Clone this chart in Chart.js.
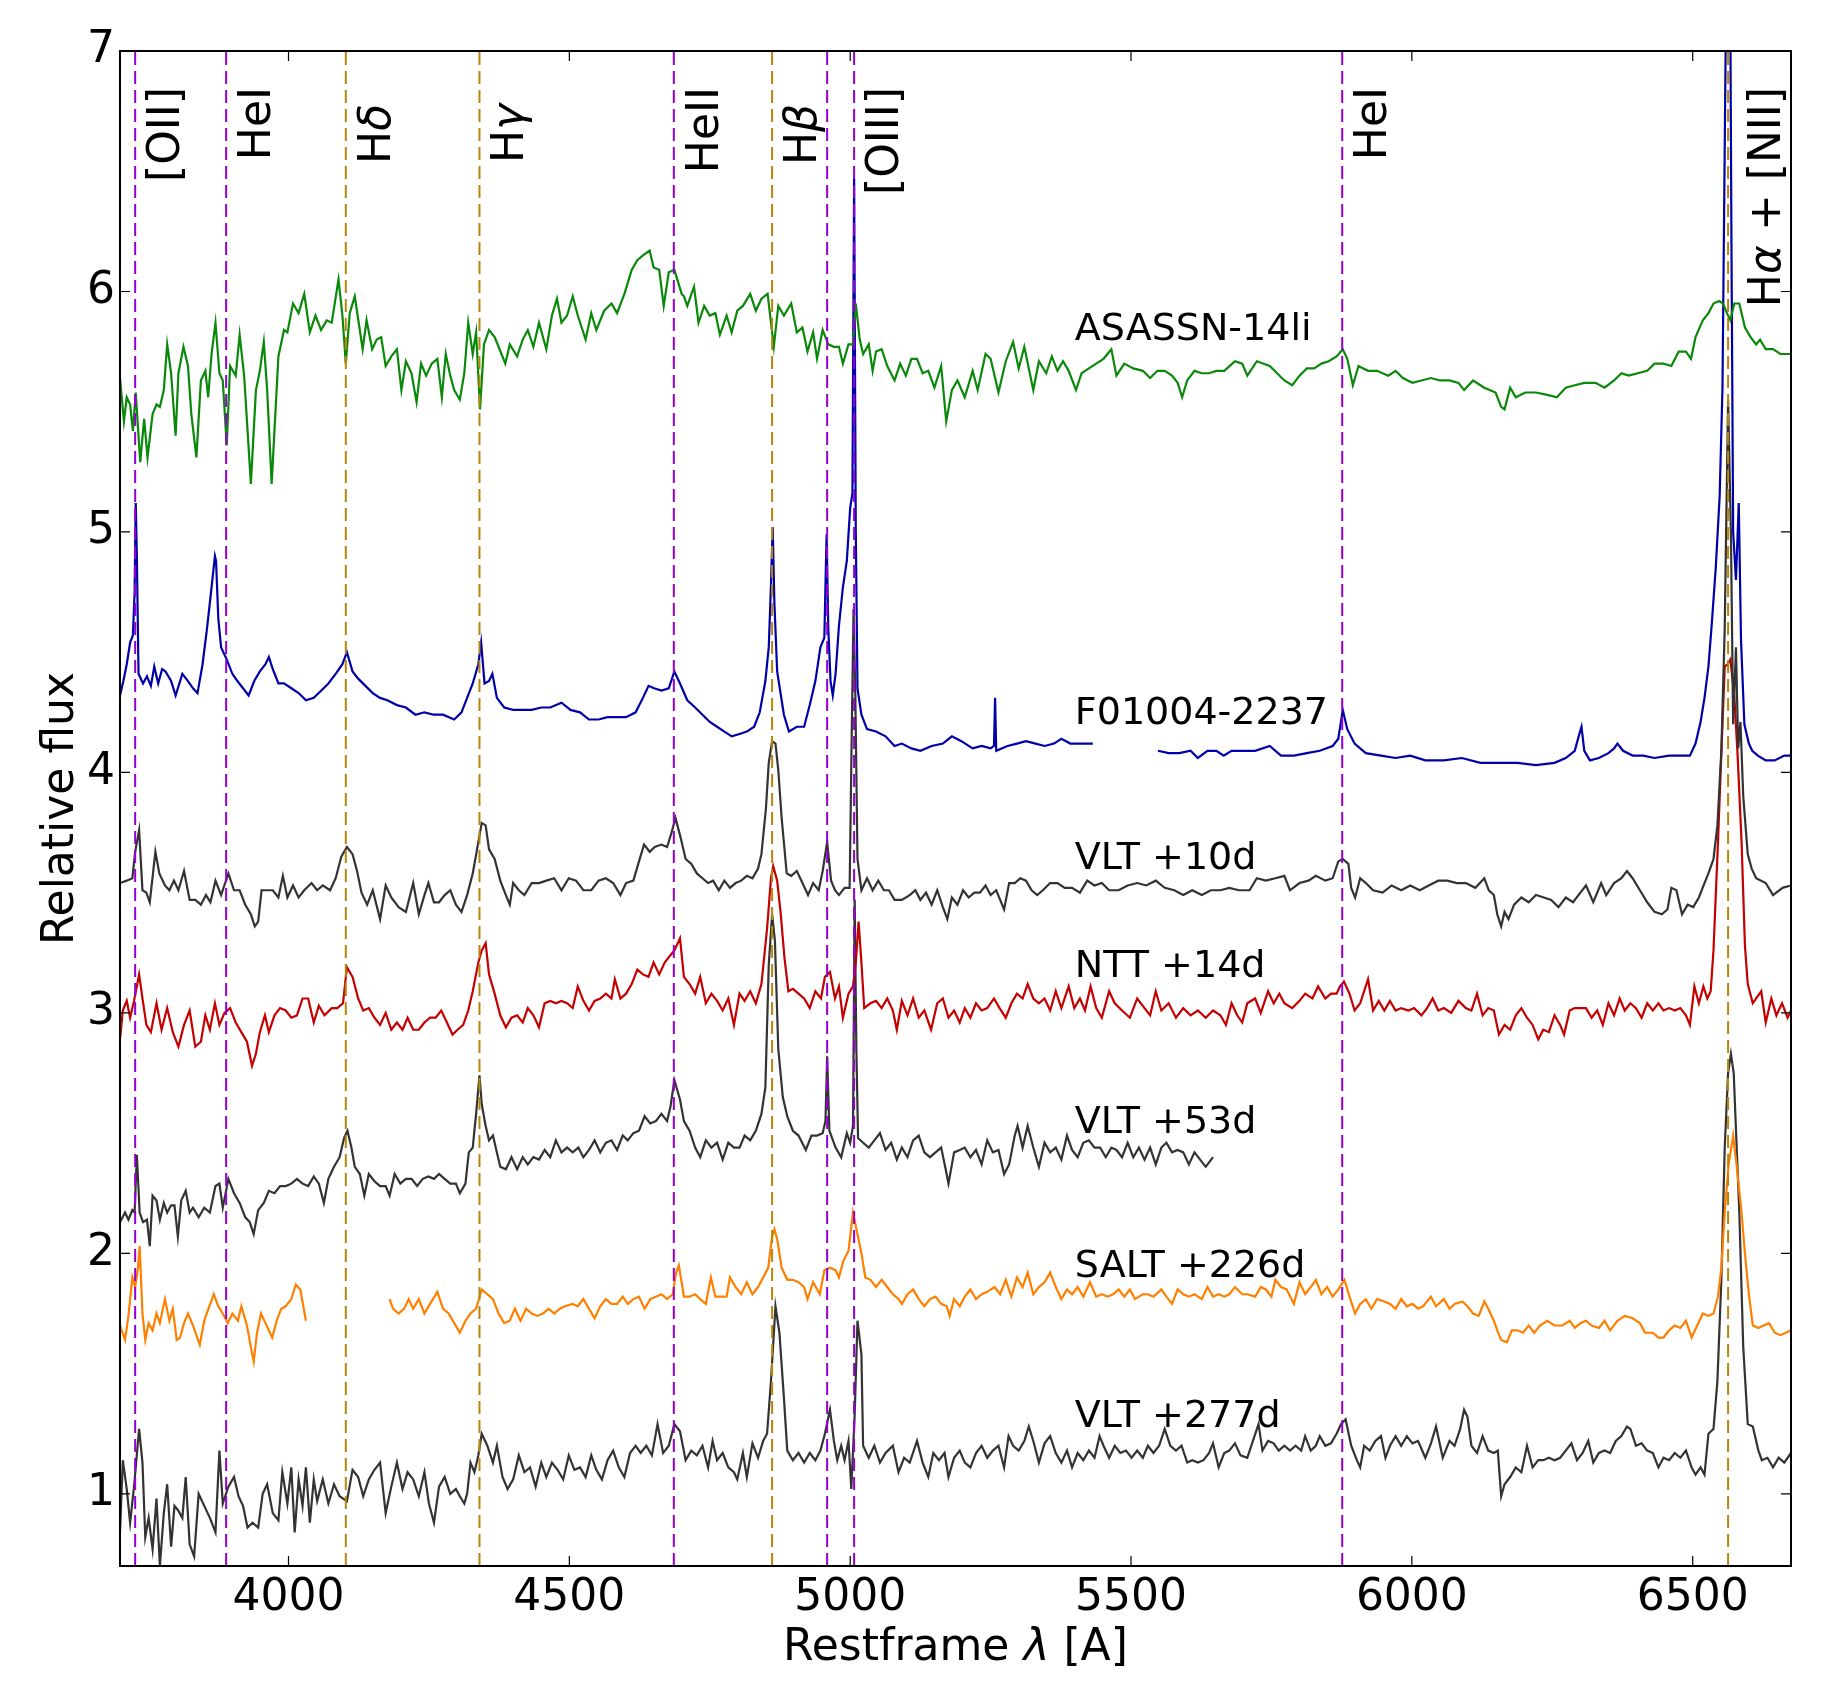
<!DOCTYPE html>
<html>
<head>
<meta charset="utf-8">
<script src="https://cdn.jsdelivr.net/npm/chart.js@4.4.0/dist/chart.umd.min.js"></script>
<style>
  html, body { margin: 0; padding: 0; background: #fff; }
  #wrap { width: 1827px; height: 1701px; }
</style>
</head>
<body>
<div id="wrap"><canvas id="spec" width="1827" height="1701"></canvas></div>
<script>
// axis ranges and ticks
const xRange = [3700, 6675];
const yRange = [0.7, 7];
const xTicks = [4000, 4500, 5000, 5500, 6000, 6500];
const yTicks = [1, 2, 3, 4, 5, 6, 7];

// emission line markers (v = violet, g = goldenrod)
const lineWaves = [3727, 3889, 4102, 4340, 4686, 4861, 4959, 5007, 5876, 6563];
const lineKinds = ['v', 'v', 'g', 'g', 'v', 'g', 'v', 'v', 'v', 'g'];

// line labels: [text, italic] pieces, x position and top (in data units)
const lineLabels = [
    [['[OII]', 0]], [['HeI', 0]], [['H', 0], ['δ', 1]], [['H', 0], ['γ', 1]],
    [['HeII', 0]], [['H', 0], ['β', 1]], [['[OIII]', 0]], [['HeI', 0]],
    [['H', 0], ['α', 1], [' + [NII]', 0]]
];
const labelWaves = [3805, 3967, 4180, 4418, 4764, 4939, 5085, 5954, 6656];
const labelTops = [6.85, 6.85, 6.78, 6.78, 6.85, 6.78, 6.85, 6.85, 6.85];

// spectra names
const specNames = ['ASASSN-14li', 'F01004-2237', 'VLT +10d', 'NTT +14d', 'VLT +53d', 'SALT +226d', 'VLT +277d'];
const specColors = ['#0a880a', '#0000a8', '#333333', '#c40000', '#333333', '#ff8000', '#333333'];
const nameX = 5400;
const nameY = [5.8, 4.2, 3.6, 3.15, 2.5, 1.9, 1.28];

// spectra, [restframe wavelength, relative flux]
const asassn = [[3700,5.64],[3707,5.46],[3712,5.56],[3718,5.53],[3723,5.42],[3728,5.58],[3736,5.29],[3743,5.47],[3749,5.31],[3758,5.49],[3765,5.53],[3771,5.52],[3778,5.59],[3784,5.78],[3791,5.66],[3799,5.40],[3804,5.66],[3813,5.77],[3821,5.69],[3827,5.49],[3836,5.31],[3844,5.63],[3852,5.67],[3857,5.56],[3863,5.74],[3870,5.87],[3877,5.66],[3883,5.63],[3890,5.36],[3896,5.69],[3906,5.65],[3913,5.82],[3921,5.65],[3933,5.20],[3942,5.59],[3949,5.67],[3956,5.79],[3962,5.59],[3970,5.20],[3982,5.73],[3992,5.84],[3998,5.83],[4008,5.95],[4018,5.91],[4028,5.99],[4038,5.83],[4048,5.90],[4058,5.84],[4068,5.88],[4077,5.87],[4089,6.05],[4096,5.90],[4102,5.70],[4109,5.91],[4118,5.98],[4125,5.87],[4132,5.76],[4139,5.88],[4149,5.76],[4157,5.80],[4165,5.81],[4173,5.69],[4183,5.73],[4193,5.76],[4201,5.59],[4209,5.71],[4219,5.66],[4228,5.54],[4236,5.70],[4245,5.65],[4255,5.70],[4265,5.72],[4273,5.56],[4280,5.74],[4288,5.65],[4295,5.59],[4305,5.55],[4313,5.66],[4320,5.87],[4328,5.74],[4334,5.83],[4341,5.51],[4348,5.78],[4357,5.84],[4367,5.81],[4374,5.77],[4386,5.70],[4394,5.78],[4407,5.73],[4417,5.80],[4426,5.84],[4436,5.77],[4446,5.87],[4459,5.76],[4469,5.90],[4478,5.97],[4486,5.87],[4496,5.90],[4506,5.98],[4515,5.90],[4529,5.80],[4539,5.91],[4548,5.84],[4562,5.92],[4575,5.95],[4585,5.91],[4598,5.99],[4611,6.09],[4621,6.13],[4631,6.15],[4643,6.17],[4650,6.10],[4660,6.09],[4668,5.94],[4677,6.08],[4687,6.09],[4700,5.99],[4704,5.98],[4710,5.94],[4722,6.02],[4730,5.87],[4740,5.94],[4750,5.90],[4760,5.91],[4768,5.82],[4780,5.90],[4789,5.83],[4799,5.92],[4809,5.94],[4822,5.99],[4832,5.92],[4842,5.97],[4853,5.99],[4864,5.77],[4872,5.94],[4882,5.90],[4895,5.95],[4905,5.83],[4915,5.85],[4924,5.75],[4934,5.83],[4941,5.72],[4951,5.84],[4961,5.78],[4971,5.77],[4980,5.77],[4987,5.70],[4997,5.78],[5005,5.78],[5010,5.95],[5017,5.80],[5023,5.74],[5033,5.78],[5040,5.67],[5046,5.75],[5056,5.76],[5066,5.69],[5079,5.63],[5089,5.70],[5099,5.65],[5109,5.72],[5119,5.72],[5129,5.66],[5139,5.67],[5150,5.60],[5162,5.69],[5171,5.46],[5181,5.59],[5191,5.63],[5204,5.56],[5218,5.67],[5227,5.59],[5241,5.74],[5250,5.72],[5264,5.58],[5277,5.71],[5290,5.79],[5300,5.68],[5310,5.77],[5326,5.59],[5336,5.71],[5349,5.66],[5359,5.73],[5369,5.67],[5379,5.71],[5389,5.67],[5402,5.59],[5412,5.66],[5425,5.68],[5438,5.70],[5451,5.72],[5465,5.76],[5474,5.65],[5488,5.70],[5504,5.68],[5521,5.67],[5534,5.64],[5547,5.67],[5560,5.67],[5573,5.65],[5583,5.62],[5591,5.56],[5600,5.63],[5613,5.67],[5626,5.66],[5639,5.66],[5652,5.67],[5666,5.67],[5685,5.71],[5698,5.70],[5707,5.65],[5724,5.71],[5747,5.69],[5760,5.66],[5773,5.63],[5787,5.61],[5800,5.65],[5813,5.68],[5826,5.68],[5839,5.70],[5852,5.71],[5866,5.73],[5877,5.76],[5885,5.72],[5895,5.61],[5905,5.69],[5922,5.67],[5938,5.67],[5958,5.65],[5971,5.67],[5984,5.64],[6001,5.62],[6017,5.63],[6034,5.64],[6050,5.63],[6067,5.63],[6083,5.62],[6093,5.59],[6109,5.63],[6129,5.60],[6149,5.58],[6159,5.52],[6165,5.51],[6175,5.60],[6185,5.56],[6202,5.58],[6221,5.58],[6241,5.57],[6258,5.56],[6274,5.60],[6290,5.61],[6307,5.62],[6327,5.62],[6343,5.60],[6360,5.63],[6373,5.66],[6386,5.65],[6402,5.66],[6419,5.67],[6432,5.70],[6448,5.70],[6462,5.69],[6475,5.75],[6488,5.75],[6497,5.72],[6505,5.81],[6518,5.88],[6528,5.91],[6537,5.95],[6547,5.96],[6554,5.95],[6561,5.91],[6567,5.88],[6574,5.95],[6583,5.95],[6593,5.85],[6603,5.81],[6613,5.78],[6620,5.80],[6630,5.76],[6643,5.76],[6656,5.74],[6675,5.74]];

const f01004 = [[3700,4.32],[3706,4.38],[3712,4.45],[3718,4.54],[3723,4.57],[3726,4.75],[3728,5.12],[3730,4.90],[3733,4.41],[3741,4.37],[3748,4.40],[3755,4.36],[3761,4.44],[3768,4.37],[3775,4.43],[3781,4.42],[3791,4.38],[3799,4.32],[3811,4.41],[3821,4.38],[3830,4.35],[3838,4.33],[3847,4.45],[3855,4.60],[3863,4.77],[3869,4.90],[3871,4.88],[3875,4.64],[3880,4.52],[3890,4.47],[3900,4.41],[3909,4.38],[3919,4.35],[3929,4.32],[3939,4.38],[3949,4.42],[3959,4.45],[3965,4.48],[3972,4.43],[3982,4.37],[3992,4.37],[4005,4.35],[4018,4.33],[4031,4.30],[4045,4.31],[4058,4.34],[4071,4.37],[4084,4.41],[4096,4.45],[4104,4.50],[4114,4.42],[4124,4.39],[4137,4.36],[4150,4.33],[4163,4.31],[4176,4.30],[4193,4.28],[4209,4.27],[4226,4.24],[4242,4.25],[4259,4.24],[4275,4.24],[4295,4.22],[4308,4.25],[4318,4.31],[4328,4.37],[4338,4.45],[4343,4.54],[4349,4.37],[4357,4.38],[4363,4.41],[4371,4.31],[4384,4.27],[4400,4.26],[4417,4.26],[4433,4.26],[4450,4.27],[4466,4.27],[4486,4.29],[4502,4.26],[4519,4.25],[4535,4.22],[4552,4.22],[4568,4.23],[4585,4.23],[4601,4.23],[4618,4.25],[4631,4.31],[4641,4.36],[4651,4.35],[4664,4.34],[4677,4.35],[4687,4.42],[4697,4.37],[4710,4.30],[4724,4.27],[4737,4.24],[4750,4.21],[4763,4.19],[4776,4.17],[4789,4.15],[4803,4.16],[4816,4.17],[4829,4.19],[4839,4.25],[4849,4.38],[4855,4.52],[4859,4.78],[4862,5.02],[4865,4.71],[4870,4.42],[4882,4.24],[4891,4.17],[4905,4.19],[4918,4.19],[4928,4.28],[4938,4.38],[4947,4.52],[4954,4.56],[4958,4.99],[4961,4.60],[4965,4.38],[4969,4.32],[4974,4.41],[4980,4.61],[4987,4.77],[4994,4.88],[5000,5.10],[5004,5.16],[5007,6.47],[5010,5.00],[5013,4.35],[5020,4.24],[5030,4.18],[5046,4.17],[5063,4.15],[5079,4.11],[5092,4.12],[5109,4.10],[5125,4.09],[5145,4.11],[5165,4.12],[5181,4.15],[5198,4.13],[5218,4.10],[5234,4.11],[5250,4.10],[5256,4.11],[5258,4.31],[5260,4.09],[5280,4.11],[5297,4.12],[5313,4.13],[5330,4.12],[5346,4.11],[5363,4.12],[5376,4.14],[5392,4.12],[5412,4.12],[5432,4.12],[5490,null],[5548,4.09],[5567,4.08],[5586,4.08],[5606,4.09],[5619,4.06],[5636,4.09],[5652,4.09],[5665,4.07],[5679,4.09],[5694,4.09],[5721,4.09],[5747,4.11],[5767,4.07],[5790,4.07],[5813,4.08],[5836,4.09],[5859,4.11],[5869,4.14],[5877,4.26],[5885,4.18],[5898,4.12],[5918,4.08],[5945,4.07],[5971,4.06],[5997,4.07],[6024,4.05],[6057,4.05],[6089,4.06],[6122,4.04],[6155,4.04],[6188,4.04],[6221,4.03],[6254,4.04],[6274,4.06],[6290,4.09],[6297,4.15],[6302,4.19],[6307,4.09],[6317,4.05],[6333,4.06],[6350,4.08],[6360,4.10],[6366,4.12],[6376,4.09],[6393,4.07],[6412,4.07],[6432,4.06],[6458,4.07],[6481,4.07],[6495,4.07],[6505,4.12],[6514,4.21],[6521,4.31],[6528,4.44],[6534,4.62],[6541,4.85],[6548,5.15],[6553,5.60],[6557,6.60],[6561,7.60],[6566,7.60],[6569,6.20],[6572,5.00],[6577,4.80],[6582,5.12],[6586,4.55],[6592,4.20],[6600,4.12],[6606,4.09],[6616,4.07],[6630,4.05],[6646,4.05],[6663,4.07],[6675,4.07]];

const vlt10 = [[3700,3.54],[3712,3.55],[3722,3.56],[3727,3.67],[3734,3.76],[3740,3.51],[3747,3.50],[3753,3.46],[3763,3.67],[3770,3.58],[3780,3.53],[3788,3.51],[3796,3.55],[3804,3.51],[3814,3.59],[3824,3.47],[3834,3.47],[3844,3.45],[3853,3.49],[3861,3.46],[3870,3.55],[3880,3.49],[3893,3.58],[3903,3.51],[3913,3.51],[3923,3.45],[3933,3.41],[3940,3.36],[3946,3.38],[3952,3.51],[3962,3.51],[3972,3.51],[3982,3.48],[3990,3.57],[3998,3.48],[4008,3.53],[4018,3.48],[4028,3.51],[4041,3.54],[4051,3.51],[4061,3.53],[4074,3.51],[4084,3.56],[4094,3.65],[4104,3.69],[4114,3.66],[4122,3.59],[4130,3.50],[4140,3.45],[4150,3.51],[4163,3.39],[4173,3.53],[4183,3.48],[4196,3.44],[4209,3.42],[4222,3.54],[4232,3.41],[4242,3.49],[4249,3.54],[4259,3.46],[4268,3.46],[4278,3.49],[4288,3.51],[4298,3.45],[4308,3.42],[4318,3.49],[4328,3.58],[4338,3.71],[4344,3.79],[4351,3.78],[4357,3.68],[4367,3.64],[4377,3.55],[4387,3.49],[4394,3.45],[4400,3.54],[4410,3.51],[4420,3.49],[4433,3.54],[4446,3.54],[4459,3.55],[4473,3.56],[4486,3.51],[4499,3.56],[4512,3.55],[4525,3.51],[4539,3.51],[4552,3.55],[4565,3.56],[4578,3.54],[4591,3.49],[4601,3.54],[4614,3.55],[4624,3.63],[4633,3.70],[4643,3.67],[4652,3.69],[4664,3.70],[4674,3.69],[4682,3.75],[4689,3.81],[4698,3.73],[4707,3.64],[4717,3.62],[4727,3.58],[4737,3.56],[4747,3.54],[4756,3.55],[4766,3.51],[4776,3.55],[4786,3.52],[4796,3.54],[4806,3.55],[4816,3.57],[4826,3.56],[4836,3.60],[4842,3.66],[4850,3.85],[4855,4.04],[4861,4.13],[4867,4.12],[4872,4.01],[4878,3.81],[4887,3.58],[4895,3.57],[4905,3.59],[4915,3.54],[4925,3.49],[4934,3.54],[4944,3.51],[4951,3.59],[4959,3.71],[4966,3.55],[4973,3.51],[4980,3.49],[4990,3.52],[4999,3.52],[5003,4.20],[5006,4.68],[5009,4.35],[5013,3.64],[5020,3.51],[5030,3.56],[5040,3.51],[5050,3.55],[5060,3.51],[5069,3.51],[5079,3.47],[5092,3.47],[5106,3.49],[5116,3.51],[5125,3.47],[5135,3.50],[5145,3.45],[5155,3.51],[5165,3.44],[5173,3.39],[5181,3.48],[5191,3.45],[5201,3.51],[5211,3.48],[5221,3.50],[5231,3.50],[5241,3.53],[5250,3.49],[5260,3.51],[5274,3.43],[5283,3.54],[5293,3.54],[5303,3.56],[5313,3.55],[5323,3.51],[5333,3.49],[5343,3.51],[5356,3.54],[5369,3.54],[5382,3.52],[5395,3.52],[5409,3.50],[5422,3.55],[5435,3.53],[5448,3.54],[5461,3.51],[5478,3.51],[5494,3.53],[5511,3.54],[5527,3.53],[5544,3.55],[5560,3.52],[5577,3.51],[5593,3.49],[5609,3.51],[5626,3.49],[5642,3.51],[5659,3.51],[5675,3.52],[5692,3.51],[5711,3.51],[5724,3.56],[5740,3.55],[5757,3.56],[5773,3.57],[5783,3.51],[5800,3.54],[5816,3.55],[5829,3.57],[5846,3.55],[5859,3.56],[5869,3.63],[5877,3.64],[5887,3.62],[5892,3.52],[5899,3.48],[5908,3.56],[5918,3.54],[5931,3.51],[5948,3.50],[5964,3.53],[5981,3.51],[5997,3.53],[6014,3.51],[6030,3.53],[6047,3.55],[6063,3.55],[6080,3.54],[6096,3.54],[6113,3.52],[6129,3.56],[6137,3.51],[6146,3.49],[6152,3.41],[6159,3.36],[6165,3.42],[6172,3.39],[6182,3.45],[6195,3.48],[6208,3.46],[6221,3.49],[6235,3.48],[6248,3.47],[6261,3.44],[6274,3.48],[6287,3.46],[6300,3.50],[6310,3.53],[6323,3.46],[6337,3.54],[6346,3.49],[6360,3.54],[6373,3.56],[6383,3.59],[6393,3.56],[6406,3.51],[6419,3.46],[6432,3.42],[6445,3.41],[6455,3.43],[6462,3.52],[6471,3.51],[6481,3.41],[6491,3.45],[6501,3.44],[6511,3.48],[6521,3.54],[6528,3.58],[6537,3.64],[6544,3.78],[6551,4.09],[6557,4.60],[6563,5.55],[6568,5.00],[6572,4.20],[6577,4.52],[6581,4.10],[6585,4.21],[6590,3.90],[6598,3.66],[6605,3.60],[6613,3.56],[6630,3.54],[6643,3.49],[6660,3.52],[6675,3.53]];

const ntt14 = [[3700,2.89],[3705,3.01],[3712,3.05],[3718,2.98],[3725,3.05],[3734,3.16],[3740,3.06],[3747,2.95],[3755,2.92],[3765,3.04],[3774,2.93],[3784,3.02],[3794,2.92],[3804,2.86],[3814,2.95],[3824,3.01],[3834,2.86],[3844,2.88],[3852,2.99],[3860,2.93],[3869,3.04],[3877,2.95],[3886,3.00],[3896,3.02],[3906,2.96],[3916,2.92],[3926,2.88],[3935,2.78],[3942,2.83],[3949,2.92],[3958,2.99],[3965,2.92],[3975,2.99],[3985,3.02],[3995,3.01],[4005,2.98],[4015,2.99],[4025,3.06],[4035,3.06],[4045,2.96],[4054,3.03],[4064,2.99],[4077,3.02],[4087,3.02],[4097,3.04],[4104,3.19],[4114,3.15],[4124,3.06],[4133,3.01],[4143,3.02],[4153,2.98],[4163,2.95],[4173,3.00],[4183,2.93],[4193,2.96],[4203,2.93],[4212,2.98],[4222,2.93],[4232,2.93],[4242,2.96],[4252,2.98],[4262,2.98],[4272,3.01],[4282,2.96],[4292,2.91],[4301,2.93],[4311,2.95],[4320,3.01],[4328,3.09],[4338,3.21],[4344,3.26],[4351,3.29],[4357,3.16],[4367,3.08],[4377,2.99],[4387,2.94],[4397,2.98],[4407,2.99],[4417,2.96],[4426,3.02],[4436,2.99],[4446,2.94],[4456,3.04],[4466,3.05],[4476,3.04],[4486,3.05],[4496,3.04],[4506,3.02],[4515,3.11],[4525,3.05],[4535,3.01],[4545,3.05],[4555,3.06],[4565,3.08],[4575,3.06],[4581,3.14],[4591,3.06],[4601,3.08],[4611,3.12],[4621,3.18],[4631,3.16],[4641,3.15],[4650,3.21],[4660,3.16],[4670,3.21],[4680,3.24],[4687,3.26],[4697,3.31],[4704,3.15],[4714,3.12],[4724,3.08],[4733,3.15],[4743,3.04],[4753,3.08],[4763,3.05],[4773,3.01],[4783,3.06],[4793,2.95],[4803,3.08],[4812,3.05],[4822,3.09],[4832,3.04],[4842,3.12],[4852,3.35],[4859,3.56],[4863,3.61],[4870,3.55],[4876,3.42],[4883,3.23],[4890,3.09],[4898,3.10],[4908,3.08],[4918,3.06],[4928,3.02],[4938,3.09],[4948,3.06],[4955,3.15],[4964,3.17],[4973,3.06],[4980,3.11],[4987,2.98],[4997,3.08],[5005,3.11],[5010,3.21],[5015,3.38],[5020,3.21],[5025,3.02],[5036,3.04],[5046,3.05],[5056,3.02],[5066,3.06],[5076,3.01],[5083,2.93],[5092,3.05],[5102,2.99],[5112,3.06],[5122,2.98],[5132,3.01],[5144,2.93],[5155,3.04],[5165,3.06],[5175,2.98],[5185,3.01],[5195,2.96],[5204,3.02],[5214,2.98],[5224,3.04],[5234,3.01],[5244,3.02],[5256,3.06],[5266,3.02],[5277,2.98],[5287,3.04],[5297,3.08],[5307,3.06],[5316,3.12],[5326,3.06],[5336,3.04],[5346,3.06],[5356,3.01],[5366,3.09],[5376,3.02],[5389,3.11],[5399,3.02],[5409,3.06],[5418,3.01],[5428,3.11],[5438,3.02],[5448,2.98],[5461,3.09],[5471,3.04],[5484,3.01],[5498,2.98],[5511,3.06],[5524,3.02],[5534,2.99],[5544,3.09],[5554,3.01],[5567,3.04],[5580,2.98],[5593,3.02],[5606,2.99],[5619,3.01],[5633,2.98],[5646,3.01],[5659,2.99],[5669,2.95],[5679,3.04],[5689,2.99],[5698,2.96],[5707,3.04],[5721,3.06],[5731,3.00],[5744,3.09],[5754,3.04],[5764,3.08],[5773,3.04],[5787,3.02],[5800,3.05],[5810,3.08],[5823,3.06],[5833,3.11],[5846,3.06],[5856,3.08],[5866,3.08],[5872,3.11],[5879,3.13],[5889,3.08],[5898,3.01],[5908,3.04],[5922,3.14],[5931,3.01],[5941,3.05],[5951,3.01],[5961,3.05],[5971,3.01],[5981,3.02],[5994,3.01],[6004,3.02],[6017,2.99],[6027,3.02],[6037,3.06],[6047,3.01],[6057,3.02],[6070,3.00],[6083,3.05],[6096,3.02],[6106,3.01],[6116,3.08],[6126,2.99],[6136,3.02],[6146,3.01],[6155,2.91],[6165,2.95],[6175,2.93],[6185,2.99],[6195,3.02],[6205,2.98],[6215,2.95],[6225,2.89],[6234,2.93],[6244,2.92],[6254,2.99],[6264,2.95],[6271,2.91],[6281,3.01],[6290,3.02],[6300,3.02],[6310,3.02],[6320,2.98],[6330,3.01],[6340,2.95],[6350,3.04],[6360,2.99],[6370,3.06],[6379,3.01],[6389,3.04],[6399,3.02],[6409,2.98],[6419,3.04],[6429,3.01],[6439,3.04],[6448,3.01],[6458,3.02],[6468,3.01],[6478,3.02],[6488,2.99],[6495,2.95],[6503,3.11],[6511,3.04],[6519,3.11],[6526,3.06],[6532,3.09],[6537,3.26],[6545,3.71],[6552,4.14],[6557,4.44],[6562,4.45],[6567,4.47],[6574,4.32],[6580,4.07],[6587,3.71],[6593,3.28],[6598,3.12],[6607,3.04],[6613,3.06],[6622,3.09],[6630,2.96],[6640,3.06],[6649,2.99],[6659,3.04],[6669,2.98],[6675,3.01]];

const vlt53 = [[3700,2.13],[3709,2.17],[3715,2.14],[3722,2.18],[3726,2.17],[3730,2.41],[3735,2.17],[3741,2.13],[3748,2.14],[3753,2.03],[3758,2.24],[3765,2.22],[3771,2.14],[3778,2.21],[3784,2.17],[3791,2.20],[3797,2.20],[3803,2.07],[3809,2.22],[3817,2.26],[3824,2.17],[3830,2.19],[3840,2.15],[3850,2.19],[3860,2.17],[3870,2.28],[3877,2.29],[3883,2.19],[3893,2.31],[3903,2.25],[3913,2.21],[3923,2.15],[3931,2.13],[3938,2.08],[3946,2.18],[3956,2.21],[3965,2.26],[3975,2.25],[3985,2.28],[3995,2.28],[4005,2.29],[4015,2.31],[4025,2.29],[4035,2.28],[4045,2.32],[4054,2.29],[4063,2.21],[4071,2.31],[4081,2.36],[4091,2.40],[4099,2.48],[4105,2.51],[4112,2.44],[4118,2.36],[4127,2.33],[4135,2.24],[4143,2.33],[4153,2.30],[4163,2.28],[4173,2.28],[4180,2.24],[4189,2.33],[4199,2.29],[4209,2.31],[4219,2.31],[4229,2.28],[4239,2.31],[4249,2.32],[4259,2.31],[4268,2.33],[4278,2.31],[4288,2.29],[4298,2.29],[4305,2.25],[4315,2.29],[4321,2.42],[4328,2.44],[4334,2.58],[4340,2.74],[4344,2.62],[4351,2.53],[4357,2.47],[4364,2.49],[4371,2.42],[4377,2.36],[4387,2.35],[4397,2.40],[4407,2.35],[4417,2.40],[4426,2.37],[4436,2.40],[4446,2.39],[4456,2.43],[4466,2.40],[4476,2.47],[4486,2.42],[4496,2.44],[4506,2.42],[4516,2.44],[4525,2.40],[4535,2.43],[4545,2.47],[4555,2.42],[4565,2.46],[4575,2.47],[4585,2.43],[4595,2.49],[4604,2.47],[4614,2.50],[4624,2.51],[4634,2.57],[4644,2.54],[4654,2.55],[4664,2.58],[4674,2.55],[4680,2.61],[4687,2.72],[4697,2.64],[4704,2.55],[4714,2.51],[4724,2.44],[4733,2.40],[4743,2.47],[4753,2.44],[4763,2.46],[4773,2.39],[4783,2.46],[4793,2.44],[4803,2.44],[4812,2.49],[4822,2.47],[4832,2.51],[4842,2.58],[4849,2.69],[4855,3.20],[4861,3.41],[4866,3.30],[4872,2.85],[4880,2.65],[4888,2.57],[4898,2.51],[4908,2.49],[4921,2.43],[4931,2.49],[4941,2.49],[4951,2.50],[4956,2.55],[4959,2.82],[4963,2.51],[4974,2.44],[4984,2.40],[4994,2.50],[5000,2.46],[5005,2.53],[5008,3.47],[5011,2.85],[5014,2.48],[5023,2.46],[5033,2.44],[5043,2.47],[5053,2.50],[5063,2.43],[5073,2.46],[5083,2.39],[5092,2.44],[5102,2.40],[5112,2.47],[5122,2.49],[5132,2.42],[5142,2.40],[5152,2.42],[5162,2.44],[5170,2.35],[5175,2.29],[5185,2.42],[5195,2.43],[5204,2.44],[5214,2.40],[5224,2.43],[5234,2.37],[5244,2.47],[5254,2.42],[5264,2.43],[5274,2.33],[5283,2.37],[5293,2.49],[5298,2.53],[5307,2.44],[5316,2.53],[5326,2.44],[5336,2.36],[5346,2.46],[5356,2.42],[5366,2.44],[5376,2.39],[5386,2.49],[5395,2.43],[5405,2.40],[5415,2.46],[5425,2.47],[5435,2.44],[5445,2.44],[5455,2.40],[5465,2.44],[5474,2.43],[5484,2.40],[5494,2.46],[5504,2.40],[5514,2.44],[5524,2.39],[5534,2.44],[5544,2.37],[5554,2.44],[5563,2.46],[5573,2.42],[5583,2.43],[5593,2.42],[5603,2.37],[5613,2.42],[5623,2.39],[5633,2.36],[5646,2.40]];

const salt226 = [[3700,1.70],[3709,1.64],[3715,1.74],[3722,1.90],[3727,1.86],[3732,1.94],[3735,2.03],[3740,1.75],[3745,1.64],[3751,1.71],[3758,1.68],[3765,1.75],[3771,1.71],[3780,1.81],[3788,1.72],[3794,1.77],[3801,1.64],[3807,1.65],[3814,1.71],[3821,1.75],[3830,1.70],[3842,1.62],[3850,1.72],[3859,1.78],[3867,1.83],[3875,1.78],[3883,1.75],[3892,1.71],[3900,1.75],[3910,1.72],[3916,1.78],[3926,1.70],[3933,1.61],[3938,1.55],[3944,1.67],[3951,1.75],[3959,1.71],[3971,1.65],[3979,1.72],[3987,1.77],[3995,1.78],[4005,1.81],[4013,1.87],[4021,1.85],[4031,1.72],[4100,null],[4180,1.81],[4186,1.77],[4196,1.75],[4206,1.77],[4214,1.81],[4222,1.77],[4232,1.81],[4242,1.75],[4252,1.79],[4265,1.84],[4275,1.77],[4285,1.75],[4295,1.71],[4305,1.67],[4315,1.72],[4324,1.75],[4334,1.77],[4344,1.85],[4354,1.83],[4364,1.81],[4374,1.75],[4384,1.71],[4394,1.72],[4403,1.77],[4413,1.72],[4423,1.77],[4433,1.75],[4443,1.74],[4453,1.75],[4463,1.77],[4473,1.75],[4483,1.77],[4492,1.78],[4506,1.79],[4515,1.78],[4525,1.81],[4535,1.77],[4545,1.73],[4555,1.78],[4565,1.81],[4575,1.79],[4585,1.79],[4595,1.82],[4604,1.79],[4614,1.81],[4624,1.82],[4634,1.77],[4644,1.81],[4654,1.82],[4664,1.83],[4674,1.81],[4684,1.83],[4690,1.92],[4695,1.95],[4704,1.82],[4714,1.82],[4724,1.83],[4733,1.81],[4743,1.79],[4752,1.90],[4760,1.82],[4770,1.82],[4780,1.82],[4786,1.90],[4796,1.86],[4806,1.83],[4816,1.88],[4826,1.83],[4836,1.86],[4845,1.90],[4854,1.94],[4861,2.07],[4865,2.10],[4870,2.06],[4878,1.94],[4888,1.89],[4898,1.89],[4908,1.88],[4918,1.86],[4924,1.81],[4934,1.88],[4946,1.83],[4954,1.93],[4964,1.94],[4974,1.93],[4980,1.90],[4988,1.97],[4997,2.01],[5005,2.17],[5013,2.08],[5020,2.00],[5027,1.90],[5036,1.89],[5046,1.86],[5056,1.89],[5066,1.86],[5076,1.83],[5086,1.81],[5092,1.79],[5102,1.83],[5112,1.85],[5122,1.81],[5132,1.78],[5142,1.81],[5152,1.82],[5162,1.79],[5172,1.78],[5177,1.74],[5185,1.81],[5195,1.78],[5204,1.82],[5214,1.85],[5224,1.81],[5234,1.83],[5244,1.84],[5257,1.86],[5267,1.83],[5277,1.89],[5287,1.82],[5297,1.90],[5307,1.86],[5316,1.92],[5326,1.83],[5336,1.86],[5346,1.88],[5356,1.92],[5366,1.86],[5376,1.81],[5386,1.85],[5395,1.83],[5405,1.86],[5415,1.82],[5427,1.88],[5438,1.82],[5448,1.83],[5458,1.82],[5468,1.83],[5478,1.85],[5488,1.82],[5498,1.85],[5507,1.81],[5521,1.83],[5530,1.83],[5540,1.82],[5554,1.85],[5563,1.82],[5573,1.79],[5583,1.85],[5593,1.83],[5603,1.82],[5613,1.83],[5626,1.81],[5636,1.86],[5646,1.82],[5656,1.83],[5666,1.82],[5675,1.83],[5685,1.86],[5698,1.83],[5707,1.83],[5721,1.82],[5731,1.86],[5740,1.85],[5750,1.82],[5757,1.89],[5767,1.86],[5777,1.85],[5790,1.79],[5800,1.88],[5810,1.83],[5820,1.86],[5829,1.89],[5839,1.83],[5849,1.86],[5859,1.82],[5869,1.85],[5880,1.89],[5889,1.82],[5899,1.75],[5908,1.79],[5918,1.81],[5928,1.77],[5938,1.81],[5951,1.80],[5961,1.79],[5971,1.77],[5981,1.81],[5991,1.78],[6001,1.79],[6011,1.77],[6020,1.78],[6034,1.82],[6043,1.78],[6057,1.81],[6067,1.77],[6076,1.79],[6090,1.80],[6099,1.78],[6109,1.75],[6119,1.74],[6129,1.80],[6136,1.77],[6146,1.72],[6152,1.68],[6159,1.64],[6169,1.63],[6178,1.68],[6188,1.68],[6198,1.67],[6208,1.70],[6218,1.67],[6228,1.70],[6241,1.72],[6254,1.70],[6268,1.70],[6281,1.72],[6290,1.69],[6300,1.71],[6310,1.72],[6320,1.70],[6333,1.69],[6343,1.72],[6353,1.68],[6366,1.72],[6379,1.74],[6393,1.73],[6406,1.71],[6415,1.67],[6429,1.67],[6439,1.65],[6448,1.65],[6458,1.68],[6468,1.70],[6478,1.69],[6488,1.72],[6498,1.65],[6508,1.70],[6518,1.75],[6528,1.74],[6537,1.75],[6545,1.82],[6551,1.94],[6557,2.17],[6564,2.37],[6572,2.49],[6578,2.37],[6587,2.17],[6593,2.00],[6600,1.83],[6607,1.70],[6617,1.69],[6626,1.70],[6636,1.71],[6646,1.67],[6656,1.66],[6666,1.67],[6675,1.68]];

const vlt277 = [[3700,0.84],[3705,1.14],[3712,1.02],[3718,0.88],[3725,1.03],[3734,1.27],[3740,1.13],[3745,0.82],[3751,0.90],[3758,0.77],[3765,0.98],[3771,0.70],[3778,0.92],[3784,1.04],[3791,0.78],[3797,0.95],[3804,0.93],[3811,0.90],[3817,1.07],[3824,0.79],[3832,0.74],[3840,1.00],[3850,0.95],[3860,0.90],[3870,0.84],[3877,1.18],[3883,0.96],[3893,1.03],[3903,1.07],[3911,0.99],[3919,0.95],[3927,0.86],[3936,0.88],[3946,0.86],[3954,1.00],[3962,1.04],[3972,0.92],[3982,0.89],[3989,1.09],[3998,0.96],[4005,1.11],[4011,0.84],[4018,1.06],[4025,0.95],[4031,1.11],[4038,0.88],[4045,1.06],[4051,0.97],[4061,1.06],[4071,0.96],[4081,1.04],[4091,0.99],[4104,0.97],[4114,1.10],[4124,1.07],[4133,0.99],[4143,1.06],[4153,1.10],[4163,1.13],[4173,0.92],[4183,1.03],[4193,1.13],[4203,1.02],[4212,1.09],[4222,1.06],[4232,0.99],[4242,1.09],[4250,0.96],[4259,0.88],[4268,1.03],[4278,1.07],[4288,1.00],[4298,1.02],[4305,0.99],[4313,0.96],[4318,1.00],[4324,1.13],[4331,1.09],[4338,1.16],[4344,1.25],[4354,1.20],[4364,1.13],[4371,1.20],[4381,1.07],[4390,1.02],[4400,1.06],[4410,1.16],[4420,1.09],[4430,1.11],[4440,1.03],[4450,1.13],[4459,1.07],[4469,1.13],[4479,1.10],[4489,1.06],[4499,1.16],[4509,1.10],[4519,1.11],[4529,1.07],[4539,1.16],[4548,1.10],[4558,1.06],[4568,1.14],[4578,1.18],[4588,1.11],[4598,1.07],[4608,1.17],[4618,1.20],[4627,1.17],[4637,1.20],[4647,1.16],[4657,1.29],[4667,1.17],[4677,1.20],[4687,1.29],[4697,1.26],[4707,1.14],[4717,1.18],[4727,1.16],[4737,1.20],[4747,1.11],[4755,1.22],[4763,1.14],[4773,1.17],[4783,1.11],[4793,1.09],[4799,1.06],[4809,1.17],[4816,1.07],[4826,1.21],[4836,1.15],[4845,1.22],[4852,1.25],[4859,1.47],[4867,1.78],[4874,1.67],[4882,1.40],[4888,1.18],[4898,1.14],[4908,1.17],[4918,1.13],[4928,1.17],[4938,1.14],[4947,1.18],[4955,1.25],[4964,1.35],[4971,1.22],[4977,1.14],[4984,1.20],[4990,1.14],[4997,1.22],[5002,1.02],[5008,1.33],[5013,1.72],[5020,1.58],[5023,1.20],[5033,1.15],[5043,1.20],[5053,1.13],[5063,1.17],[5076,1.20],[5086,1.09],[5096,1.15],[5106,1.13],[5119,1.22],[5129,1.13],[5139,1.07],[5148,1.17],[5158,1.14],[5168,1.17],[5175,1.07],[5185,1.15],[5195,1.18],[5204,1.13],[5214,1.11],[5224,1.17],[5234,1.20],[5244,1.15],[5254,1.18],[5264,1.20],[5274,1.11],[5282,1.24],[5290,1.20],[5300,1.18],[5310,1.22],[5318,1.28],[5326,1.22],[5336,1.13],[5346,1.21],[5356,1.24],[5366,1.17],[5376,1.13],[5386,1.18],[5395,1.11],[5405,1.17],[5415,1.14],[5425,1.18],[5435,1.15],[5444,1.24],[5451,1.20],[5461,1.15],[5471,1.20],[5481,1.17],[5491,1.18],[5501,1.15],[5511,1.18],[5521,1.15],[5530,1.20],[5540,1.17],[5550,1.20],[5560,1.27],[5570,1.20],[5580,1.18],[5590,1.20],[5600,1.13],[5609,1.14],[5619,1.13],[5629,1.14],[5639,1.17],[5646,1.21],[5656,1.11],[5666,1.17],[5675,1.18],[5685,1.21],[5695,1.16],[5707,1.15],[5717,1.22],[5727,1.29],[5734,1.18],[5744,1.22],[5754,1.21],[5763,1.18],[5773,1.20],[5783,1.18],[5793,1.20],[5803,1.18],[5810,1.24],[5820,1.18],[5829,1.20],[5836,1.24],[5846,1.20],[5856,1.21],[5866,1.25],[5874,1.29],[5882,1.31],[5892,1.20],[5902,1.14],[5908,1.11],[5915,1.20],[5925,1.18],[5935,1.22],[5945,1.24],[5953,1.15],[5961,1.20],[5971,1.24],[5981,1.20],[5991,1.24],[6001,1.21],[6011,1.22],[6024,1.15],[6034,1.21],[6043,1.28],[6055,1.15],[6067,1.22],[6076,1.20],[6086,1.27],[6093,1.35],[6099,1.32],[6106,1.20],[6116,1.17],[6126,1.24],[6136,1.18],[6146,1.17],[6153,1.18],[6159,0.99],[6165,1.04],[6175,1.07],[6185,1.11],[6195,1.09],[6205,1.20],[6215,1.11],[6225,1.14],[6234,1.14],[6244,1.15],[6254,1.14],[6264,1.15],[6274,1.18],[6284,1.21],[6294,1.14],[6304,1.17],[6314,1.22],[6323,1.13],[6333,1.17],[6343,1.18],[6353,1.17],[6363,1.22],[6373,1.24],[6383,1.28],[6389,1.27],[6399,1.20],[6409,1.21],[6419,1.18],[6429,1.17],[6439,1.11],[6448,1.15],[6458,1.14],[6468,1.17],[6478,1.15],[6488,1.18],[6498,1.11],[6505,1.08],[6514,1.11],[6521,1.08],[6528,1.25],[6537,1.27],[6544,1.47],[6551,1.89],[6557,2.44],[6563,2.75],[6568,2.83],[6573,2.75],[6579,2.40],[6583,2.17],[6590,1.61],[6598,1.29],[6607,1.28],[6617,1.18],[6623,1.14],[6633,1.15],[6643,1.11],[6653,1.15],[6663,1.13],[6675,1.17]];

const spectra = [asassn, f01004, vlt10, ntt14, vlt53, salt226, vlt277];

const FONT = '"DejaVu Sans", "Liberation Sans", sans-serif';
const lineColor = { v: '#9400d3', g: '#b8860b' };
const tickLen = 10;

function toXY(pairs) {
    return pairs.map(p => ({ x: p[0], y: p[1] }));
}

// draws text made of regular / italic pieces, rotated 90 deg, ending at (bx, topY)
function drawRotated(ctx, pieces, size, bx, topY) {
    let total = 0;
    const widths = pieces.map(([t, it]) => {
        ctx.font = (it ? 'italic ' : '') + size + 'px ' + FONT;
        const w = ctx.measureText(t).width;
        total += w;
        return w;
    });
    ctx.save();
    ctx.translate(bx, topY);
    ctx.rotate(-Math.PI / 2);
    ctx.textAlign = 'left';
    ctx.textBaseline = 'alphabetic';
    let pos = -total;
    pieces.forEach(([t, it], i) => {
        ctx.font = (it ? 'italic ' : '') + size + 'px ' + FONT;
        ctx.fillText(t, pos, 0);
        pos += widths[i];
    });
    ctx.restore();
}

const decor = {
    id: 'decor',
    afterDatasetsDraw(chart) {
        const { ctx, chartArea: a, scales } = chart;
        const xs = scales.x, ys = scales.y;
        ctx.save();

        // frame
        ctx.strokeStyle = '#000';
        ctx.lineWidth = 2;
        ctx.strokeRect(a.left, a.top, a.right - a.left, a.bottom - a.top);

        // inward ticks on all four sides
        ctx.lineWidth = 1.2;
        ctx.beginPath();
        xTicks.forEach(v => {
            const px = xs.getPixelForValue(v);
            ctx.moveTo(px, a.bottom); ctx.lineTo(px, a.bottom - tickLen);
            ctx.moveTo(px, a.top); ctx.lineTo(px, a.top + tickLen);
        });
        yTicks.forEach(v => {
            const py = ys.getPixelForValue(v);
            ctx.moveTo(a.left, py); ctx.lineTo(a.left + tickLen, py);
            ctx.moveTo(a.right, py); ctx.lineTo(a.right - tickLen, py);
        });
        ctx.stroke();

        ctx.fillStyle = '#000';

        // emission line labels
        lineLabels.forEach((pieces, i) => {
            drawRotated(ctx, pieces, 44, xs.getPixelForValue(labelWaves[i]), ys.getPixelForValue(labelTops[i]));
        });

        // spectrum names
        ctx.font = '38px ' + FONT;
        ctx.textAlign = 'left';
        ctx.textBaseline = 'alphabetic';
        specNames.forEach((name, i) => {
            ctx.fillText(name, xs.getPixelForValue(nameX), ys.getPixelForValue(nameY[i]));
        });

        // axis titles
        const xt = [['Restframe ', 0], ['λ', 1], [' [A]', 0]];
        let total = 0;
        const ws = xt.map(([t, it]) => {
            ctx.font = (it ? 'italic ' : '') + '44px ' + FONT;
            const w = ctx.measureText(t).width;
            total += w;
            return w;
        });
        let px = (a.left + a.right) / 2 - total / 2;
        xt.forEach(([t, it], i) => {
            ctx.font = (it ? 'italic ' : '') + '44px ' + FONT;
            ctx.fillText(t, px, a.bottom + 94);
            px += ws[i];
        });

        ctx.save();
        ctx.translate(73, (a.top + a.bottom) / 2);
        ctx.rotate(-Math.PI / 2);
        ctx.font = '44px ' + FONT;
        ctx.textAlign = 'center';
        ctx.fillText('Relative flux', 0, 0);
        ctx.restore();

        ctx.restore();
    }
};

const datasets = [];
spectra.forEach((s, i) => {
    datasets.push({
        data: toXY(s),
        borderColor: specColors[i],
        borderWidth: 2.2,
        pointRadius: 0,
        tension: 0,
        spanGaps: false,
        order: 1
    });
});
lineWaves.forEach((w, i) => {
    datasets.push({
        data: [{ x: w, y: yRange[0] }, { x: w, y: yRange[1] }],
        borderColor: lineColor[lineKinds[i]],
        borderWidth: 2,
        borderDash: [13, 6],
        pointRadius: 0,
        order: 0
    });
});

new Chart(document.getElementById('spec'), {
    type: 'line',
    data: { datasets },
    options: {
        responsive: false,
        devicePixelRatio: 1,
        animation: false,
        clip: 0,
        layout: { padding: { top: 51, right: 36, bottom: 0, left: 0 } },
        plugins: { legend: { display: false }, tooltip: { enabled: false } },
        scales: {
            x: {
                type: 'linear',
                min: xRange[0],
                max: xRange[1],
                grid: { display: false, drawTicks: false },
                border: { display: false },
                ticks: {
                    color: '#000',
                    font: { family: FONT, size: 44 },
                    padding: 6,
                    maxRotation: 0,
                    autoSkip: false,
                    callback: v => String(v)
                },
                afterBuildTicks: s => { s.ticks = xTicks.map(v => ({ value: v })); },
                afterFit: s => { s.height = 135; }
            },
            y: {
                type: 'linear',
                min: yRange[0],
                max: yRange[1],
                grid: { display: false, drawTicks: false },
                border: { display: false },
                ticks: {
                    color: '#000',
                    font: { family: FONT, size: 44 },
                    padding: 5,
                    autoSkip: false,
                    callback: v => String(v)
                },
                afterBuildTicks: s => { s.ticks = yTicks.map(v => ({ value: v })); },
                afterFit: s => { s.width = 120; }
            }
        }
    },
    plugins: [decor]
});
</script>
</body>
</html>
